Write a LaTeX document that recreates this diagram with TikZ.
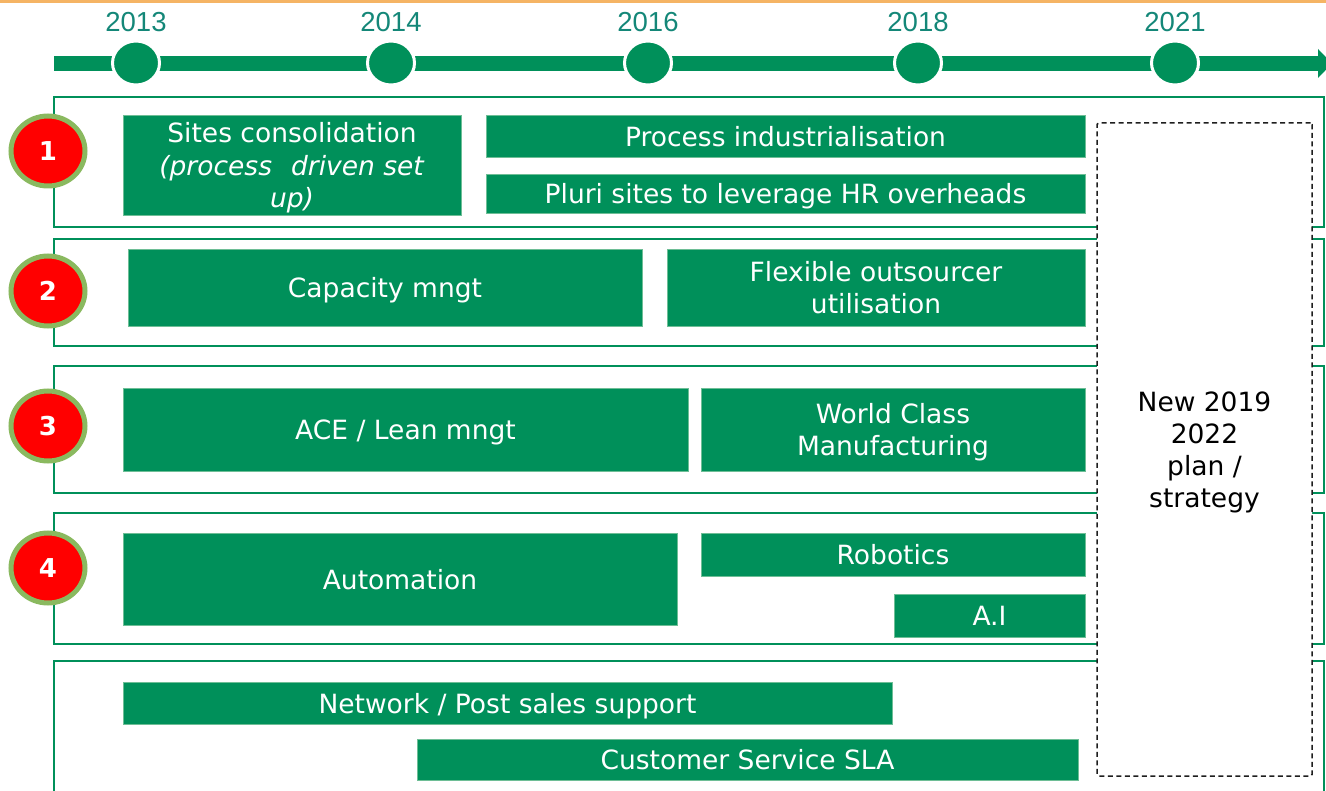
\documentclass[tikz,border=0pt]{standalone}
\usepackage{fontspec}
\setmainfont{DejaVu Sans}
\newfontfamily\yearfont{Liberation Sans}
\usetikzlibrary{shapes.geometric}

\definecolor{bargreen}{RGB}{0,144,90}
\definecolor{edgegreen}{RGB}{110,190,150}
\definecolor{yearteal}{RGB}{20,135,120}
\definecolor{topline}{RGB}{245,180,100}
\definecolor{ringgreen}{RGB}{138,185,95}
\definecolor{badgered}{RGB}{255,0,0}
\definecolor{dashgray}{RGB}{30,30,30}

\tikzset{
  task/.style={rectangle, fill=bargreen, draw=edgegreen, line width=0.6pt,
    text=white, font=\fontsize{26.5}{32.5}\selectfont, align=center, inner sep=0pt,
    text depth=0pt},
  rowframe/.style={rectangle, draw=bargreen, line width=2pt, inner sep=0pt},
  milestone/.style={ellipse, fill=bargreen, draw=white, line width=3pt,
    minimum width=47pt, minimum height=44pt, inner sep=0pt},
  yearlabel/.style={text=yearteal, font=\yearfont\fontsize{27.5}{30}\selectfont, inner sep=0pt},
  badge/.style={ellipse, fill=badgered, draw=ringgreen, line width=5pt,
    minimum width=74pt, minimum height=70pt, inner sep=0pt, text=white,
    font=\bfseries\fontsize{26}{28}\selectfont},
  planbox/.style={rectangle, draw=dashgray, dash pattern=on 5pt off 3.5pt,
    line width=1.5pt, fill=white, rounded corners=1.5pt, align=center,
    font=\fontsize{26.5}{32}\selectfont, inner sep=0pt, text depth=0pt}
}

\begin{document}
\begin{tikzpicture}[x=1pt,y=-1pt]
\useasboundingbox (0,0) rectangle (1326,791);

% thin rule along the top edge
\fill[topline] (0,0) rectangle (1326,3);

% timeline bar with arrow head
\fill[bargreen] (54,56) rectangle (1320,71);
\fill[bargreen] (1318,49) -- (1332,63.5) -- (1318,78) -- cycle;

% milestones and years
\foreach \nm/\x/\yr in {m13/136/2013, m14/391/2014, m16/648/2016, m18/918/2018, m21/1175/2021}{
  \node[milestone] (\nm) at (\x,63) {};
  \node[yearlabel] (y\nm) at (\x,22) {\yr};
}

% row frames
\node[rowframe, minimum width=1270pt, minimum height=130pt] (row1) at (689,162) {};
\node[rowframe, minimum width=1270pt, minimum height=107pt] (row2) at (689,292.5) {};
\node[rowframe, minimum width=1270pt, minimum height=127pt] (row3) at (689,429.5) {};
\node[rowframe, minimum width=1270pt, minimum height=131pt] (row4) at (689,578.5) {};
\node[rowframe, minimum width=1270pt, minimum height=150pt] (row5) at (689,736) {};

% forward plan box
\node[planbox, minimum width=215pt, minimum height=653pt] (plan) at (1204.5,449.5)
  {New 2019\\2022\\plan /\\strategy};

% row 1
\node[task, minimum width=338pt, minimum height=100pt] (sites) at (292,165)
  {Sites consolidation\\\textit{(process\hspace{0.4em} driven set}\\\textit{up)}};
\node[task, minimum width=599pt, minimum height=42pt] (procind) at (785.5,136)
  {Process industrialisation};
\node[task, minimum width=599pt, minimum height=39pt] (pluri) at (785.5,193.5)
  {Pluri sites to leverage HR overheads};

% row 2
\node[task, minimum width=514pt, minimum height=77pt] (capacity) at (385,287.5)
  {Capacity mngt};
\node[task, minimum width=418pt, minimum height=77pt] (flex) at (876,287.5)
  {Flexible outsourcer\\utilisation};

% row 3
\node[task, minimum width=565pt, minimum height=83pt] (ace) at (405.5,429.5)
  {ACE / Lean mngt};
\node[task, minimum width=384pt, minimum height=83pt] (wcm) at (893,429.5)
  {World Class\\Manufacturing};

% row 4
\node[task, minimum width=554pt, minimum height=92pt] (automation) at (400,579)
  {Automation};
\node[task, minimum width=384pt, minimum height=43pt] (robotics) at (893,554.5)
  {Robotics};
\node[task, minimum width=191pt, minimum height=43pt] (ai) at (989.5,615.5)
  {A.I};

% row 5
\node[task, minimum width=769pt, minimum height=42pt] (network) at (507.5,703)
  {Network / Post sales support};
\node[task, minimum width=661pt, minimum height=41pt] (sla) at (747.5,759.5)
  {Customer Service SLA};

% numbered badges
\node[badge] (b1) at (48,151) {1};
\node[badge] (b2) at (48,291) {2};
\node[badge] (b3) at (48,426) {3};
\node[badge] (b4) at (48,568) {4};
\end{tikzpicture}
\end{document}
